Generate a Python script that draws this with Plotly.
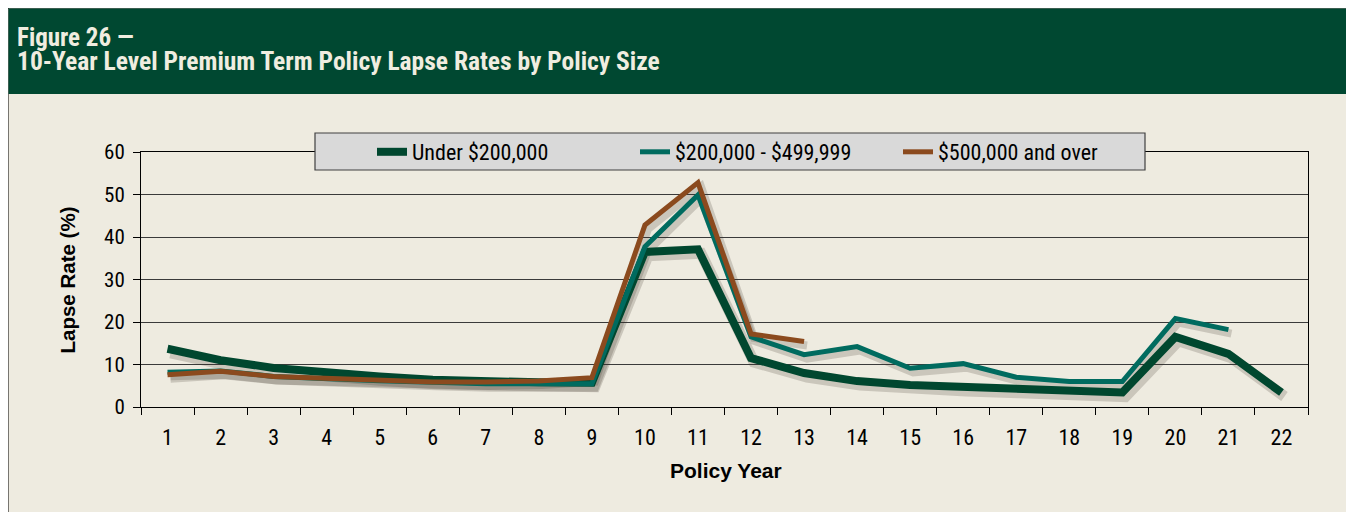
import plotly.graph_objects as go

years = [str(i) for i in range(1, 23)]
under_200k = [13.7, 11.0, 9.2, 8.0, 7.2, 6.4, 6.0, 5.8, 5.7, 36.5, 37.1, 11.5,
              8.0, 6.1, 5.2, 4.7, 4.3, 3.7, 3.4, 16.5, 12.5, 3.4]
mid_200k_500k = [8.2, 8.5, 7.2, 6.6, 6.2, 5.8, 5.5, 5.5, 5.5, 37.7, 49.9, 16.5,
                 12.3, 14.2, 9.1, 10.2, 7.0, 6.0, 6.0, 20.8, 18.2, None]
over_500k = [7.6, 8.4, 7.2, 6.8, 6.4, 5.9, 5.9, 6.1, 6.9, 42.8, 52.8, 17.2,
             15.4, None, None, None, None, None, None, None, None, None]

series_names = ["Under $200,000", "$200,000 - $499,999", "$500,000 and over"]
series_values = [under_200k, mid_200k_500k, over_500k]
series_colors = ["#00472F", "#006B5F", "#8B4A1E"]
series_widths = [8, 5, 5]

# page body margin offsets the figure by 8px; layout is expressed in reference pixels
OFF = 8
W, H = 1354 - OFF, 512 - OFF
L, R, T, B = 141 - OFF, 46, 152 - OFF, 105
PW, PH = W - L - R, H - T - B

def px(x):
    return (x - OFF - L) / PW

def py(y):
    return (H - B - (y - OFF)) / PH

NARROW = "Liberation Sans Narrow, Arial Narrow, Roboto Condensed, DejaVu Sans Condensed, sans-serif"
BOLD = "Liberation Sans, Arial, sans-serif"

fig = go.Figure()

# invisible anchor trace so the base axes are drawn
fig.add_trace(go.Scatter(x=years, y=under_200k, mode="none", showlegend=False, hoverinfo="skip"))

# soft drop shadows on an offset overlay axis
for vals, w in zip(series_values, series_widths):
    fig.add_trace(go.Scatter(x=years, y=vals, mode="lines", xaxis="x2", yaxis="y2",
                             line=dict(color="rgba(60,50,40,0.20)", width=w + 3),
                             hoverinfo="skip", showlegend=False))

for name, vals, c, w in zip(series_names, series_values, series_colors, series_widths):
    fig.add_trace(go.Scatter(x=years, y=vals, mode="lines", name=name, xaxis="x3", yaxis="y3",
                             line=dict(color=c, width=w)))

dx = 3 / (PW / 22)
dy = 4 / (PH / 60)
xr = [-0.5, 21.5]
yr = [0, 60]

fig.update_layout(
    width=W, height=H,
    margin=dict(l=L, r=R, t=T, b=B),
    paper_bgcolor="white",
    plot_bgcolor="rgba(0,0,0,0)",
    showlegend=True,
    xaxis=dict(type="category", categoryorder="array", categoryarray=years, range=xr,
               showline=True, linecolor="black", linewidth=1, mirror=True,
               ticks="outside", ticklen=7, tickcolor="black", tickson="boundaries",
               ticklabelstandoff=11,
               showgrid=False, tickfont=dict(family=NARROW, size=22, color="black")),
    yaxis=dict(range=yr, dtick=10, showline=True, linecolor="black", linewidth=1, mirror=True,
               ticks="outside", ticklen=7, tickcolor="black", showgrid=True,
               ticklabelstandoff=4,
               gridcolor="#3a3a3a", gridwidth=1, zeroline=False,
               tickfont=dict(family=NARROW, size=21, color="black")),
    xaxis2=dict(type="category", categoryorder="array", categoryarray=years,
                range=[xr[0] - dx, xr[1] - dx], overlaying="x", visible=False),
    yaxis2=dict(range=[yr[0] + dy, yr[1] + dy], overlaying="y", visible=False),
    xaxis3=dict(type="category", categoryorder="array", categoryarray=years,
                range=xr, overlaying="x", visible=False),
    yaxis3=dict(range=yr, overlaying="y", visible=False),
    legend=dict(orientation="h", x=px(372), xanchor="left", y=py(152), yanchor="middle",
                bgcolor="rgba(0,0,0,0)", borderwidth=0,
                font=dict(family=NARROW, size=22, color="black"),
                entrywidth=218, entrywidthmode="pixels", itemwidth=30),
    shapes=[
        dict(type="rect", xref="paper", yref="paper", x0=px(7), x1=px(1352), y0=py(530), y1=py(7),
             fillcolor="#EEEBE0", line=dict(color="black", width=3), layer="below"),
        dict(type="rect", xref="paper", yref="paper", x0=px(8.5), x1=px(1350.5), y0=py(94), y1=py(8.5),
             fillcolor="#004831", line=dict(width=0), layer="below"),
        dict(type="rect", xref="paper", yref="paper", x0=px(315), x1=px(1145), y0=py(170), y1=py(133),
             fillcolor="#D9D9D9", line=dict(color="#404040", width=1.2), layer="above"),
    ],
    annotations=[
        dict(text="Figure 26 —", xref="paper", yref="paper", x=px(15), y=py(37.5),
             xanchor="left", yanchor="middle", showarrow=False,
             font=dict(family=NARROW, size=25, color="#F0EDE0", weight="bold")),
        dict(text="10-Year Level Premium Term Policy Lapse Rates by Policy Size", xref="paper", yref="paper",
             x=px(15), y=py(61.5), xanchor="left", yanchor="middle", showarrow=False,
             font=dict(family=NARROW, size=25.5, color="#F0EDE0", weight="bold")),
        dict(text="Lapse Rate (%)", xref="paper", yref="paper", x=px(67), y=py(279.5),
             xanchor="center", yanchor="middle", textangle=-90, showarrow=False,
             font=dict(family=BOLD, size=20.5, color="black", weight="bold")),
        dict(text="Policy Year", xref="paper", yref="paper", x=px(726), y=py(470),
             xanchor="center", yanchor="middle", showarrow=False,
             font=dict(family=BOLD, size=21, color="black", weight="bold")),
    ],
)

fig.write_html("out.html")
